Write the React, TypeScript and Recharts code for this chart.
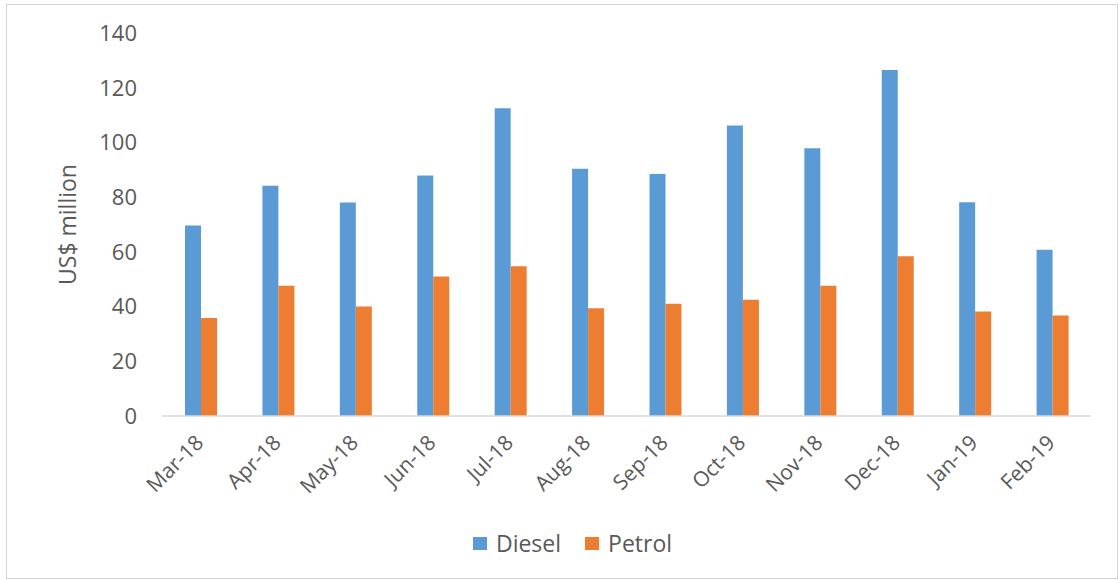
import React from 'react';
import { BarChart, Bar, XAxis, YAxis, Legend, Label } from 'recharts';

const months = ['Mar-18', 'Apr-18', 'May-18', 'Jun-18', 'Jul-18', 'Aug-18', 'Sep-18', 'Oct-18', 'Nov-18', 'Dec-18', 'Jan-19', 'Feb-19'];
const diesel = [69.6, 84.2, 78, 87.9, 112.5, 90.4, 88.5, 106.2, 97.9, 126.5, 78.1, 60.8];
const petrol = [35.8, 47.6, 40, 51, 54.7, 39.4, 41, 42.5, 47.6, 58.4, 38.2, 36.7];
const yTicks = [0, 20, 40, 60, 80, 100, 120, 140];

const seriesNames = ['Diesel', 'Petrol'];
const colors = ['#5B9BD5', '#ED7D31'];

const data = months.map((m, i) => ({ month: m, Diesel: diesel[i], Petrol: petrol[i] }));

const FONT = '"Open Sans", sans-serif';
const TEXT = '#595959';

const XTick = (props: any) => {
  const { x, y, payload } = props;
  const tx = x + 4;
  const ty = y + 20;
  return (
    <text
      x={tx}
      y={ty}
      transform={`rotate(-45, ${tx}, ${ty})`}
      textAnchor="end"
      fill={TEXT}
      fontSize={21}
      fontFamily={FONT}
    >
      {payload.value}
    </text>
  );
};

const LegendContent = () => (
  <div
    style={{
      display: 'flex',
      justifyContent: 'center',
      alignItems: 'center',
      paddingLeft: 26,
      height: 34,
      fontFamily: FONT,
      fontSize: 23,
      color: TEXT,
    }}
  >
    {seriesNames.map((n, i) => (
      <div key={n} style={{ display: 'flex', alignItems: 'center', marginRight: i === 0 ? 24 : 0 }}>
        <div style={{ width: 14, height: 13, background: colors[i], marginRight: 9 }} />
        <span>{n}</span>
      </div>
    ))}
  </div>
);

export default function App() {
  return (
    <div style={{ position: 'absolute', left: 0, top: 0, width: 1119, height: 580, background: '#fff' }}>
      <div
        style={{
          position: 'absolute',
          left: 6,
          top: 4,
          width: 1110,
          height: 573,
          border: '1px solid #d4d4d4',
        }}
      />
      <div style={{ position: 'absolute', left: 0, top: 0 }}>
        <BarChart
          width={1119}
          height={580}
          data={data}
          margin={{ top: 33, right: 28, bottom: 20, left: 0 }}
          barGap={0}
        >
          <YAxis
            width={162}
            domain={[0, 140]}
            ticks={yTicks}
            axisLine={false}
            tickLine={false}
            tickSize={0}
            tickMargin={25}
            tick={{ fill: TEXT, fontSize: 22, fontFamily: FONT }}
          >
            <Label
              content={(p: any) => {
                const vb = p.viewBox;
                const cx = vb.x + 67;
                const cy = vb.y + vb.height / 2;
                return (
                  <text
                    x={cx}
                    y={cy}
                    transform={`rotate(-90, ${cx}, ${cy})`}
                    textAnchor="middle"
                    dominantBaseline="central"
                    fill={TEXT}
                    fontSize={23}
                    fontFamily={FONT}
                  >
                    US$ million
                  </text>
                );
              }}
            />
          </YAxis>
          <XAxis
            dataKey="month"
            interval={0}
            height={110}
            axisLine={{ stroke: '#d9d9d9', strokeWidth: 1.5 }}
            tickLine={false}
            tick={<XTick />}
          />
          <Legend
            verticalAlign="bottom"
            content={<LegendContent />}
            wrapperStyle={{ left: 0, width: 1119 }}
          />
          <Bar dataKey="Diesel" fill={colors[0]} barSize={16} isAnimationActive={false} />
          <Bar dataKey="Petrol" fill={colors[1]} barSize={16} isAnimationActive={false} />
        </BarChart>
      </div>
    </div>
  );
}
